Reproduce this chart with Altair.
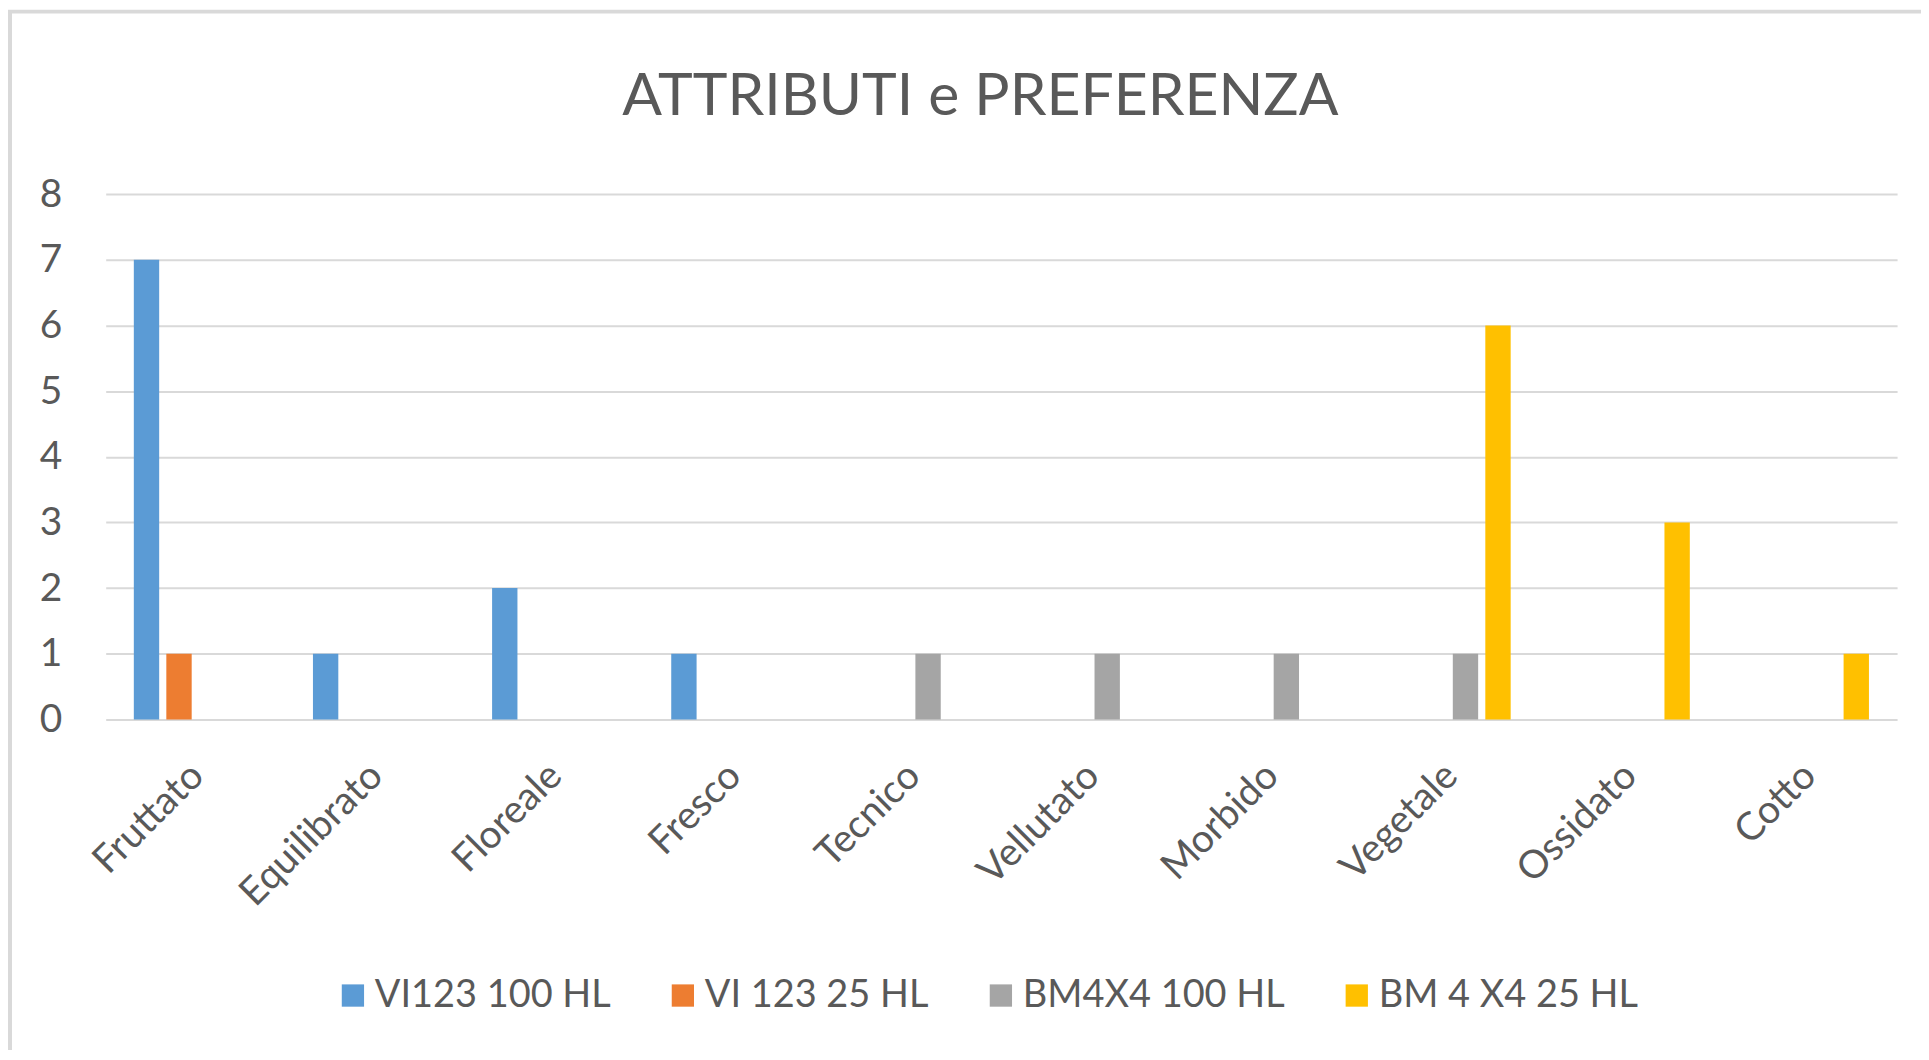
import altair as alt
import pandas as pd

categories = ["Fruttato", "Equilibrato", "Floreale", "Fresco", "Tecnico",
              "Vellutato", "Morbido", "Vegetale", "Ossidato", "Cotto"]
series_names = ["VI123 100 HL", "VI 123 25 HL", "BM4X4 100 HL", "BM 4 X4 25 HL"]
vi123_100 = [7, 1, 2, 1, 0, 0, 0, 0, 0, 0]
vi123_25 = [1, 0, 0, 0, 0, 0, 0, 0, 0, 0]
bm4x4_100 = [0, 0, 0, 0, 1, 1, 1, 1, 0, 0]
bm4x4_25 = [0, 0, 0, 0, 0, 0, 0, 6, 3, 1]
colors = ["#5b9bd5", "#ed7d31", "#a5a5a5", "#ffc000"]
y_ticks = [0, 1, 2, 3, 4, 5, 6, 7, 8]

rows = []
for s, vals in zip(series_names, [vi123_100, vi123_25, bm4x4_100, bm4x4_25]):
    for c, v in zip(categories, vals):
        rows.append({"Attributo": c, "Serie": s, "Valore": v})
df = pd.DataFrame(rows)

FONT = "Lato"
TXT = "#595959"
W, H = 1797, 527

bars = alt.Chart(df).transform_filter("datum.Valore > 0").mark_bar().encode(
    x=alt.X("Attributo:N", sort=categories,
            scale=alt.Scale(domain=categories, paddingInner=0.314, paddingOuter=0.157),
            axis=alt.Axis(title=None, labelAngle=-45, labelAlign="right",
                          labelBaseline="middle", labelPadding=50, labelOffset=2,
                          ticks=False, domain=False, grid=False, labelFont=FONT,
                          labelFontSize=39, labelColor=TXT, labelLimit=0)),
    xOffset=alt.XOffset("Serie:N", sort=series_names,
                        scale=alt.Scale(domain=series_names, paddingInner=0.22, paddingOuter=0)),
    y=alt.Y("Valore:Q", scale=alt.Scale(domain=[0, 8], nice=False),
            axis=alt.Axis(title=None, values=y_ticks, ticks=False, domain=False,
                          grid=True, gridColor="#d9d9d9", gridWidth=2,
                          labelFont=FONT, labelFontSize=39, labelColor=TXT,
                          labelPadding=44)),
    color=alt.Color("Serie:N", sort=series_names,
                    scale=alt.Scale(domain=series_names, range=colors),
                    legend=alt.Legend(title=None, orient="none", direction="horizontal",
                                      legendX=229, legendY=785,
                                      symbolType="square", symbolSize=500,
                                      symbolStrokeWidth=0, labelFont=FONT,
                                      labelFontSize=38, labelColor=TXT, labelLimit=0,
                                      labelOffset=3, columnPadding=53)),
)

frame = alt.Chart(pd.DataFrame({"k": [0]})).mark_rect(
    fill=None, stroke="#d9d9d9", strokeWidth=4, clip=False
).encode(
    x=alt.value(-96), x2=alt.value(W + 60),
    y=alt.value(-183), y2=alt.value(H + 400),
)

chart = alt.layer(frame, bars).properties(
    width=W, height=H,
    background="white",
    title=alt.TitleParams("ATTRIBUTI e PREFERENZA", font=FONT, fontSize=59,
                          fontWeight="normal", color=TXT, anchor="middle",
                          dx=-21, offset=-118),
    autosize=alt.AutoSizeParams(type="none"),
    padding={"left": 98, "top": 185, "right": 24, "bottom": 330},
).configure_view(strokeWidth=0, stroke="transparent")

chart.save("out.html", embed_options={"renderer": "svg", "actions": False})
